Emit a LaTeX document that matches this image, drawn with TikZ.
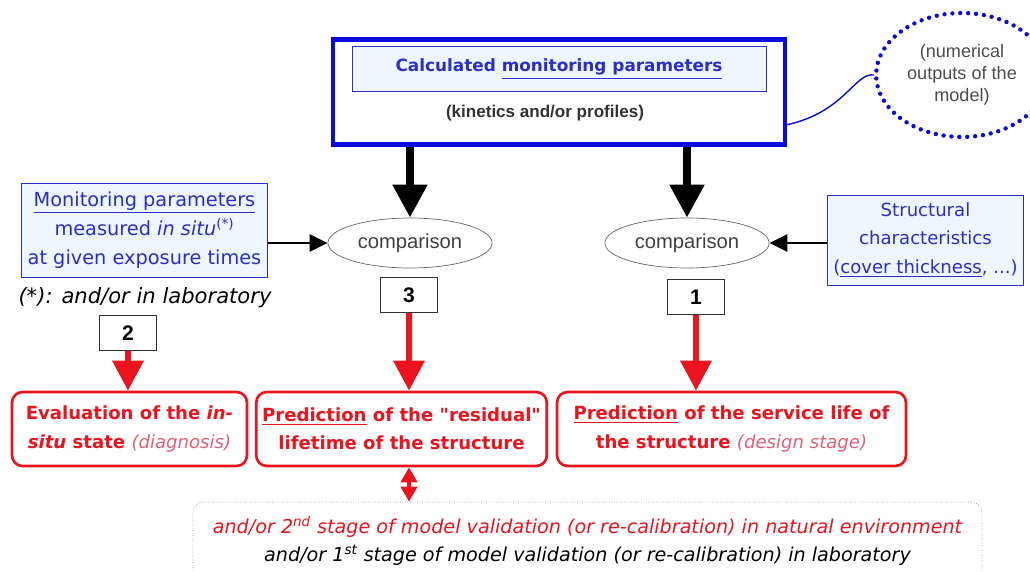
\documentclass[tikz,border=0pt]{standalone}
\usepackage{fontspec}
\setmainfont{Liberation Sans}
\newfontfamily\comic{DejaVu Sans}
\usetikzlibrary{shapes.geometric, arrows.meta, positioning, calc}
\definecolor{boxblue}{RGB}{10,10,220}
\definecolor{textblue}{RGB}{45,45,200}
\definecolor{paleblue}{RGB}{238,246,255}
\definecolor{boxred}{RGB}{235,20,30}
\definecolor{softred}{RGB}{225,95,115}

\begin{document}
\begin{tikzpicture}[x=0.02cm, y=-0.02cm,
        infobox/.style={rectangle, draw=textblue, fill=paleblue, align=center, text=textblue, font=\comic\fontsize{10.3}{16.5}\selectfont},
        compare/.style={ellipse, draw=black!60, minimum width=3.24cm, minimum height=1cm, text=black!75, font=\fontsize{11.5}{13}\selectfont},
        numbox/.style={rectangle, draw=black!80, minimum width=1.14cm, minimum height=0.7cm, font=\bfseries\fontsize{12}{14}\selectfont},
        result/.style={rectangle, draw=boxred, line width=1.5pt, rounded corners=6pt, minimum height=1.48cm, align=center, text=boxred, font=\comic\bfseries\fontsize{10.3}{16}\selectfont},
        bigarrow/.style={line width=0.16cm, -{Triangle[length=0.66cm, width=0.66cm]}},
        redarrow/.style={boxred, line width=0.13cm, -{Triangle[length=0.6cm, width=0.6cm]}},
        thinarrow/.style={line width=1.7pt, -{Triangle[length=0.36cm, width=0.34cm]}}
    ]
        \useasboundingbox (0,0) rectangle (1030,571);

        \node[rectangle, draw=boxblue, line width=2.5pt, minimum width=9.04cm, minimum height=2.1cm] (model) at (559,92) {};
        \node[rectangle, draw=textblue, fill=paleblue, minimum width=8.28cm, minimum height=0.9cm, text=textblue, font=\comic\bfseries\fontsize{9.6}{12}\selectfont] (calcpar) at (559,69) {Calculated \underline{monitoring parameters}};
        \node[font=\bfseries\fontsize{9.7}{11}\selectfont, text=black!80] (kinetics) at (545,113) {(kinetics and/or profiles)};
        \node[ellipse, draw=boxblue, line width=2.5pt, dash pattern=on 0pt off 4.5pt, line cap=round, minimum width=2.9cm, minimum height=2.48cm, align=center, text=black!70, font=\fontsize{10.3}{12.5}\selectfont] (outputs) at (962,75) {(numerical\\outputs of the\\model)};

        \node[compare] (cmpl) at (410,243) {comparison};
        \node[compare] (cmpr) at (687,243) {comparison};

        \node[infobox, minimum width=4.86cm, minimum height=1.88cm, font=\comic\fontsize{11}{16.5}\selectfont] (measured) at (144.5,230) {\underline{Monitoring parameters}\\measured \textit{in situ}\textsuperscript{(*)}\\at given exposure times};
        \node[infobox, minimum width=3.86cm, minimum height=1.8cm] (struct) at (925.5,240) {Structural\\characteristics\\(\underline{cover thickness}, ...)};
        \node[font=\comic\itshape\fontsize{12}{14}\selectfont] (note) at (145,298) {(*): and/or in laboratory};

        \node[numbox] (n2) at (128,333) {2};
        \node[numbox] (n3) at (409,295) {3};
        \node[numbox] (n1) at (696,297) {1};

        \node[result, minimum width=4.7cm] (diag) at (129.5,429) {Evaluation of the \textit{in-}\\\textit{situ} state \textcolor{softred}{\mdseries\textit{(diagnosis)}}};
        \node[result, minimum width=5.78cm] (resid) at (401.5,429) {\underline{Prediction} of the "residual"\\lifetime of the structure};
        \node[result, minimum width=6.98cm] (service) at (731.5,429) {\underline{Prediction} of the service life of\\the structure \textcolor{softred}{\mdseries\textit{(design stage)}}};

        \node[draw=black!40, densely dotted, rounded corners=6pt, minimum width=15.78cm, minimum height=1.56cm, align=center, font=\comic\itshape\fontsize{10.9}{16}\selectfont] (stages) at (587.5,541) {\textcolor{boxred}{and/or 2\textsuperscript{nd} stage of model validation (or re-calibration) in natural environment}\\and/or 1\textsuperscript{st} stage of model validation (or re-calibration) in laboratory};

        \draw[boxblue, thick] ($(model.south east)+(0,-22)$) .. controls (845,112) and (855,72) .. (outputs.west);
        \draw[bigarrow] (model.south -| cmpl.north) -- (cmpl.north);
        \draw[bigarrow] (model.south -| cmpr.north) -- (cmpr.north);
        \draw[thinarrow] (measured.east |- cmpl.west) -- (cmpl.west);
        \draw[thinarrow] (struct.west |- cmpr.east) -- (cmpr.east);
        \draw[redarrow] (n2.south) -- (n2.south |- diag.north);
        \draw[redarrow] (n3.south) -- (n3.south |- resid.north);
        \draw[redarrow] (n1.south) -- (n1.south |- service.north);
        \draw[boxred, line width=2.5pt, {Triangle[length=0.3cm, width=0.32cm]}-{Triangle[length=0.3cm, width=0.32cm]}] (resid.south -| n3) -- (stages.north -| n3);
    \end{tikzpicture}
\end{document}
